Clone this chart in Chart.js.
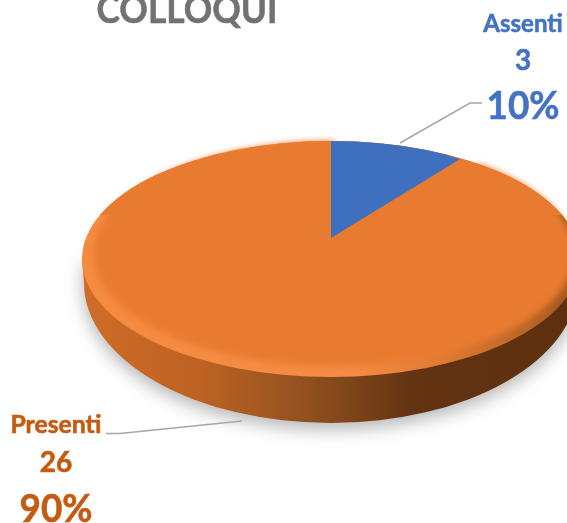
<!DOCTYPE html>
<html lang="it">
<head>
    <meta charset="UTF-8">
    <title>Colloqui</title>
    <script src="https://cdn.jsdelivr.net/npm/chart.js"></script>
    <style>
        html, body { margin: 0; padding: 0; background: #fff; overflow: hidden; }
        canvas { display: block; }
    </style>
</head>
<body>
    <canvas id="pie" width="567" height="523"></canvas>
    <script>
        // Data
        const titleText = 'COLLOQUI';
        const categories = ['Assenti', 'Presenti'];
        const counts = [3, 26];
        const percents = ['10%', '90%'];

        const sliceColors = ['#3F6FBF', '#E97B30'];
        const textColors = ['#4472C4', '#C55A11'];
        const FONT = 'Lato, Carlito, "Open Sans", sans-serif';

        // Top face is a flattened ellipse; the far slice gets its own foreshortening
        const topFace = { x: 331, y: 259, rx: 249, ry: 118 };
        const innerFace = { x: 334, y: 253.5, rx: 240, ry: 112.5 };
        const farSlice = { x: 331, y: 238, rx: 213, ry: 99 };
        const bottomEdge = { x: 331, y: 283, rx: 247, ry: 140 };

        function project(ctx, arc, f) {
            ctx.translate(f.x, f.y);
            ctx.scale(f.rx / arc.outerRadius, f.ry / arc.outerRadius);
            ctx.translate(-arc.x, -arc.y);
        }

        function topPath(ctx) {
            ctx.beginPath();
            ctx.ellipse(topFace.x, topFace.y, topFace.rx, topFace.ry, 0, 0, Math.PI * 2);
        }

        function drawWall(ctx) {
            const g = ctx.createLinearGradient(82, 0, 567, 0);
            g.addColorStop(0, '#D06C28');
            g.addColorStop(0.25, '#BC6222');
            g.addColorStop(0.45, '#94521F');
            g.addColorStop(0.68, '#633312');
            g.addColorStop(1, '#5E3010');
            ctx.save();
            ctx.shadowColor = 'rgba(0,0,0,0.3)';
            ctx.shadowBlur = 18;
            ctx.shadowOffsetY = 6;
            ctx.fillStyle = g;
            ctx.beginPath();
            ctx.moveTo(topFace.x - topFace.rx, topFace.y);
            ctx.lineTo(bottomEdge.x - bottomEdge.rx, bottomEdge.y);
            ctx.ellipse(bottomEdge.x, bottomEdge.y, bottomEdge.rx, bottomEdge.ry, 0, Math.PI, 0, true);
            ctx.lineTo(topFace.x + topFace.rx, topFace.y);
            ctx.closePath();
            ctx.fill();
            ctx.restore();
        }

        function drawRim(ctx) {
            const g = ctx.createLinearGradient(82, 0, 567, 0);
            g.addColorStop(0, '#F58B40');
            g.addColorStop(0.55, '#F58C45');
            g.addColorStop(0.75, '#E07A32');
            g.addColorStop(1, '#A85A20');
            ctx.save();
            ctx.fillStyle = g;
            topPath(ctx);
            ctx.fill();
            ctx.restore();
        }

        const pie3d = {
            id: 'pie3d',
            beforeDatasetsDraw(chart) {
                const ctx = chart.ctx;
                const arcs = chart.getDatasetMeta(0).data;
                drawWall(ctx);
                drawRim(ctx);

                // Presenti
                ctx.save();
                ctx.filter = 'blur(3px)';
                project(ctx, arcs[1], innerFace);
                arcs[1].draw(ctx);
                ctx.restore();

                // the wedge left open under the far slice, and a clean far edge without bevel
                ctx.save();
                ctx.fillStyle = sliceColors[1];
                ctx.beginPath();
                ctx.ellipse(innerFace.x, innerFace.y, innerFace.rx - 8, innerFace.ry - 8, 0, 0, Math.PI * 2);
                ctx.fill();
                ctx.beginPath();
                ctx.rect(0, 0, 567, 215);
                ctx.clip();
                topPath(ctx);
                ctx.fill();
                ctx.restore();

                // Assenti
                ctx.save();
                topPath(ctx);
                ctx.clip();
                project(ctx, arcs[0], farSlice);
                arcs[0].draw(ctx);
                ctx.restore();
                return false;
            },
            afterDraw(chart) {
                const ctx = chart.ctx;

                // leader lines
                ctx.save();
                ctx.strokeStyle = '#A6A6A6';
                ctx.lineWidth = 1.5;
                ctx.beginPath();
                ctx.moveTo(400, 143);
                ctx.lineTo(470, 103);
                ctx.lineTo(482, 103);
                ctx.moveTo(106, 433.5);
                ctx.lineTo(120, 433.5);
                ctx.lineTo(242, 421);
                ctx.stroke();
                ctx.restore();

                function label(text, x, y, size, color, maxWidth) {
                    ctx.font = 'bold ' + size + 'px ' + FONT;
                    ctx.fillStyle = color;
                    ctx.strokeStyle = color;
                    ctx.lineWidth = 0.6;
                    ctx.fillText(text, x, y, maxWidth);
                    ctx.strokeText(text, x, y, maxWidth);
                }
                ctx.save();
                ctx.textAlign = 'center';
                ctx.textBaseline = 'alphabetic';
                label(titleText, 187, 23, 39, '#767171', 181);
                label(categories[0], 523, 32, 24, textColors[0]);
                label(String(counts[0]), 523, 70, 28, textColors[0]);
                label(percents[0], 523, 119, 39, textColors[0], 73);
                label(categories[1], 56, 433, 25, textColors[1], 91);
                label(String(counts[1]), 56, 472, 28, textColors[1]);
                label(percents[1], 56, 522, 39, textColors[1], 73);
                ctx.restore();
            }
        };

        new Chart(document.getElementById('pie'), {
            type: 'pie',
            data: {
                labels: categories,
                datasets: [{
                    data: counts,
                    backgroundColor: sliceColors,
                    borderWidth: 0
                }]
            },
            options: {
                responsive: false,
                animation: false,
                layout: { padding: 0 },
                plugins: {
                    legend: { display: false },
                    tooltip: { enabled: false }
                }
            },
            plugins: [pie3d]
        });
    </script>
</body>
</html>
